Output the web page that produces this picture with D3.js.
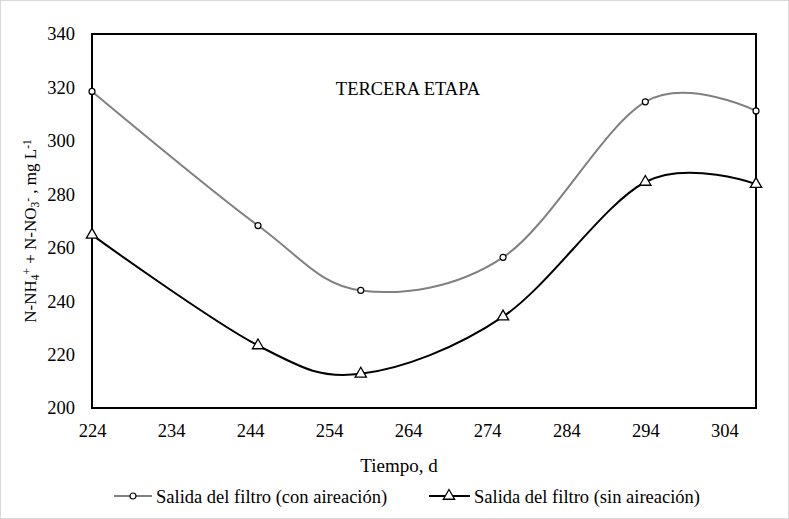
<!DOCTYPE html>
<html>
<head>
<meta charset="UTF-8">
<title>Tercera etapa</title>
<script src="https://d3js.org/d3.v7.min.js"></script>
<style>
  body { margin: 0; padding: 0; background: #fff; }
  svg text { font-family: "Liberation Serif", Tinos, "DejaVu Serif", serif; }
</style>
</head>
<body>
<div id="chart"></div>
<script>
// Datos
const dias = [224, 245, 258, 276, 294, 308];
const conAireacion = [318.5, 268.3, 244, 256.4, 314.6, 311.2];
const sinAireacion = [264.8, 223.4, 212.8, 234.2, 284.6, 283.8];
const xTicks = [224, 234, 244, 254, 264, 274, 284, 294, 304];
const yTicks = [200, 220, 240, 260, 280, 300, 320, 340];
const nombres = ["Salida del filtro (con aireación)", "Salida del filtro (sin aireación)"];

const width = 789, height = 519;
const margin = { top: 34, right: 33, bottom: 111, left: 92 };
const fs = 19;

const svg = d3.select("#chart").append("svg")
  .attr("width", width)
  .attr("height", height);

// marco exterior
svg.append("rect")
  .attr("x", 0.5).attr("y", 0.5)
  .attr("width", width - 1).attr("height", height - 1)
  .attr("fill", "#fff").attr("stroke", "#d9d9d9");

const x = d3.scaleLinear().domain([224, 308]).range([margin.left, width - margin.right]);
const y = d3.scaleLinear().domain([200, 340]).range([height - margin.bottom, margin.top]);

// etiquetas de los ejes
const xAxis = d3.axisBottom(x).tickValues(xTicks).tickSize(0).tickPadding(16);
svg.append("g")
  .attr("transform", `translate(0,${height - margin.bottom})`)
  .call(xAxis)
  .attr("font-family", null)
  .attr("font-size", 18.5)
  .call(g => g.select(".domain").remove())
  .selectAll("text").attr("fill", "#000");

const yAxis = d3.axisLeft(y).tickValues(yTicks).tickSize(0).tickPadding(17);
svg.append("g")
  .attr("transform", `translate(${margin.left},0)`)
  .call(yAxis)
  .attr("font-family", null)
  .attr("font-size", 18.5)
  .call(g => g.select(".domain").remove())
  .selectAll("text").attr("fill", "#000");

// líneas suavizadas
const line = d3.line()
  .x((d, i) => x(dias[i]))
  .y(d => y(d))
  .curve(d3.curveCardinal.tension(0));

svg.append("path")
  .datum(conAireacion)
  .attr("d", line)
  .attr("fill", "none")
  .attr("stroke", "#808080")
  .attr("stroke-width", 2);

svg.append("path")
  .datum(sinAireacion)
  .attr("d", line)
  .attr("fill", "none")
  .attr("stroke", "#000")
  .attr("stroke-width", 2);

// área del gráfico
svg.append("rect")
  .attr("x", margin.left).attr("y", margin.top)
  .attr("width", width - margin.left - margin.right)
  .attr("height", height - margin.top - margin.bottom)
  .attr("fill", "none").attr("stroke", "#000").attr("stroke-width", 2);

// marcadores
const tri = d3.symbol().type(d3.symbolTriangle).size(55);

svg.append("g").selectAll("circle")
  .data(conAireacion)
  .join("circle")
  .attr("cx", (d, i) => x(dias[i]))
  .attr("cy", d => y(d))
  .attr("r", 3)
  .attr("fill", "#fff")
  .attr("stroke", "#000")
  .attr("stroke-width", 1.2);

svg.append("g").selectAll("path")
  .data(sinAireacion)
  .join("path")
  .attr("d", tri)
  .attr("transform", (d, i) => `translate(${x(dias[i])},${y(d)})`)
  .attr("fill", "#fff")
  .attr("stroke", "#000")
  .attr("stroke-width", 1.3);

// título interno
svg.append("text")
  .attr("x", 408).attr("y", 95)
  .attr("text-anchor", "middle")
  .attr("font-size", 18.5)
  .text("TERCERA ETAPA");

// título eje x
svg.append("text")
  .attr("x", 399).attr("y", 472)
  .attr("text-anchor", "middle")
  .attr("font-size", fs)
  .text("Tiempo, d");

// título eje y
const yl = svg.append("text")
  .attr("transform", "translate(36,231) rotate(-90)")
  .attr("text-anchor", "middle")
  .attr("font-size", 17);
yl.append("tspan").text("N-NH");
yl.append("tspan").attr("baseline-shift", "-25%").attr("font-size", 11.5).text("4");
yl.append("tspan").attr("baseline-shift", "45%").attr("font-size", 11.5).text("+");
yl.append("tspan").text(" + N-NO");
yl.append("tspan").attr("baseline-shift", "-25%").attr("font-size", 11.5).text("3");
yl.append("tspan").attr("baseline-shift", "45%").attr("font-size", 11.5).text("-");
yl.append("tspan").text(" , mg L");
yl.append("tspan").attr("baseline-shift", "45%").attr("font-size", 11.5).text("-1");

// leyenda
const ley = svg.append("g").attr("transform", "translate(0,496)");
ley.append("line").attr("x1", 114).attr("x2", 152).attr("stroke", "#808080").attr("stroke-width", 2);
ley.append("circle").attr("cx", 133).attr("r", 3).attr("fill", "#fff").attr("stroke", "#000").attr("stroke-width", 1.2);
ley.append("text").attr("x", 156).attr("y", 6.5).attr("font-size", 18.5).text(nombres[0]);
ley.append("line").attr("x1", 429).attr("x2", 470).attr("stroke", "#000").attr("stroke-width", 2);
ley.append("path").attr("d", tri).attr("transform", "translate(449,0)").attr("fill", "#fff").attr("stroke", "#000").attr("stroke-width", 1.3);
ley.append("text").attr("x", 474).attr("y", 6.5).attr("font-size", 18.5).text(nombres[1]);
</script>
</body>
</html>
